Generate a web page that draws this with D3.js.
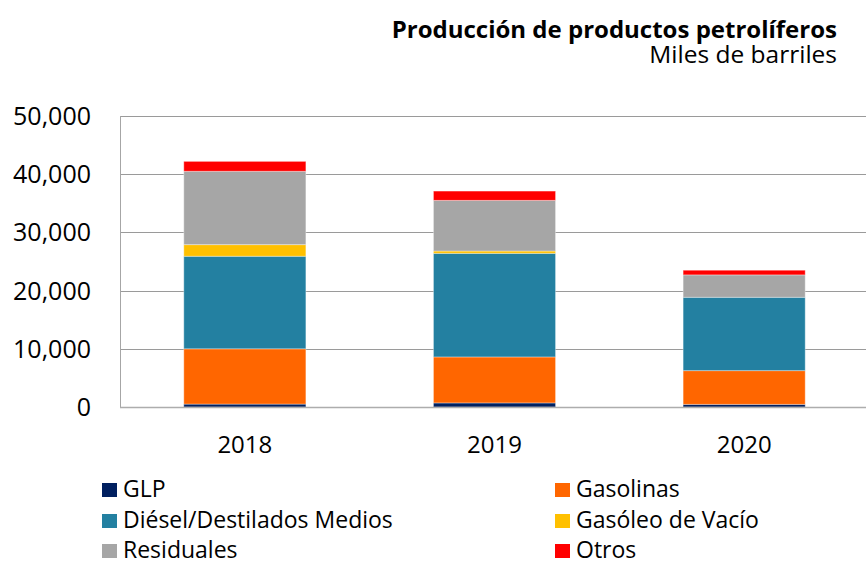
<!DOCTYPE html>
<html>
<head>
<meta charset="utf-8">
<script src="https://cdn.jsdelivr.net/npm/d3@7"></script>
<style>
  body { margin: 0; background: #fff; }
  text { font-family: "Open Sans", Lato, sans-serif; fill: #000; }
</style>
</head>
<body>
<div id="chart"></div>
<script>
'use strict';
// values (miles de barriles)
const years = ["2018", "2019", "2020"];
const seriesNames = ["GLP", "Gasolinas", "Diésel/Destilados Medios", "Gasóleo de Vacío", "Residuales", "Otros"];
const seriesColors = ["#002060", "#ff6600", "#2380a1", "#ffc000", "#a6a6a6", "#ff0000"];
const glp = [500, 700, 450];
const gasolinas = [9500, 7900, 5800];
const diesel = [15900, 17800, 12600];
const gasoleo = [2000, 400, 0];
const residuales = [12600, 8700, 3850];
const otros = [1700, 1600, 800];
const yTicks = [0, 10000, 20000, 30000, 40000, 50000];

function drawChart() {
  let width = 866, height = 561;
  let left = 120, right = 869, top = 116, bottom = 407;
  let seriesValues = [glp, gasolinas, diesel, gasoleo, residuales, otros];

  // table for d3.stack
  let table = years.map(function (y, i) {
    let row = { year: y };
    seriesNames.forEach(function (name, j) { row[name] = seriesValues[j][i]; });
    return row;
  });
  let layers = d3.stack().keys(seriesNames)(table);

  let x = d3.scaleBand()
    .domain(years)
    .range([left, right])
    .paddingInner(0.511)
    .paddingOuter(0.2555);
  let y = d3.scaleLinear()
    .domain([0, 50000])
    .range([bottom, top]);
  let color = d3.scaleOrdinal().domain(seriesNames).range(seriesColors);

  let svg = d3.select("#chart").append("svg")
    .attr("width", width)
    .attr("height", height);

  // gridlines
  svg.append("g")
    .selectAll("line")
    .data(yTicks.filter(function (t) { return t > 0; }))
    .enter().append("line")
    .attr("x1", left).attr("x2", width)
    .attr("y1", function (d) { return Math.round(y(d)) + 0.5; })
    .attr("y2", function (d) { return Math.round(y(d)) + 0.5; })
    .attr("stroke", "#9a9a9a")
    .attr("stroke-width", 1);

  // left axis line
  svg.append("line")
    .attr("x1", left + 0.5).attr("x2", left + 0.5)
    .attr("y1", top).attr("y2", bottom)
    .attr("stroke", "#a6a6a6");

  // stacked bars
  svg.append("g")
    .selectAll("g")
    .data(layers)
    .enter().append("g")
    .attr("fill", function (d) { return color(d.key); })
    .selectAll("rect")
    .data(function (d) { return d; })
    .enter().append("rect")
    .attr("x", function (d) { return x(d.data.year); })
    .attr("y", function (d) { return y(d[1]); })
    .attr("width", x.bandwidth())
    .attr("height", function (d) { return y(d[0]) - y(d[1]); })
    .attr("stroke", "#ffffff")
    .attr("stroke-opacity", 0.35)
    .attr("stroke-width", 1);

  // baseline
  svg.append("line")
    .attr("x1", left).attr("x2", width)
    .attr("y1", bottom + 0.5).attr("y2", bottom + 0.5)
    .attr("stroke", "#adadad")
    .attr("stroke-width", 1.5);

  // y tick labels
  let fmt = d3.format(",");
  svg.append("g")
    .selectAll("text")
    .data(yTicks)
    .enter().append("text")
    .attr("x", 91)
    .attr("y", function (d) { return y(d); })
    .attr("dy", "0.36em")
    .attr("text-anchor", "end")
    .attr("font-size", "25px")
    .text(function (d) { return fmt(d); });

  // x labels
  svg.append("g")
    .selectAll("text")
    .data(years)
    .enter().append("text")
    .attr("x", function (d) { return x(d) + x.bandwidth() / 2; })
    .attr("y", 453)
    .attr("text-anchor", "middle")
    .attr("font-size", "24px")
    .text(function (d) { return d; });

  // title
  svg.append("text")
    .attr("x", 837).attr("y", 38)
    .attr("text-anchor", "end")
    .attr("font-size", "24px")
    .attr("font-weight", "bold")
    .text("Producción de productos petrolíferos");
  svg.append("text")
    .attr("x", 837).attr("y", 63)
    .attr("text-anchor", "end")
    .attr("font-size", "24.5px")
    .text("Miles de barriles");

  // legend: two columns, three rows
  let legendX = [102, 555];
  let legendY = [497, 528, 558];
  let legend = svg.append("g")
    .selectAll("g")
    .data(seriesNames)
    .enter().append("g")
    .attr("transform", function (d, i) {
      return "translate(" + [legendX[i % 2], legendY[Math.floor(i / 2)]] + ")";
    });
  legend.append("rect")
    .attr("x", 0).attr("y", -14)
    .attr("width", 15).attr("height", 14)
    .attr("fill", function (d) { return color(d); });
  legend.append("text")
    .attr("x", 21).attr("y", 0)
    .attr("font-size", "23px")
    .text(function (d) { return d; });
}
drawChart();
</script>
</body>
</html>
